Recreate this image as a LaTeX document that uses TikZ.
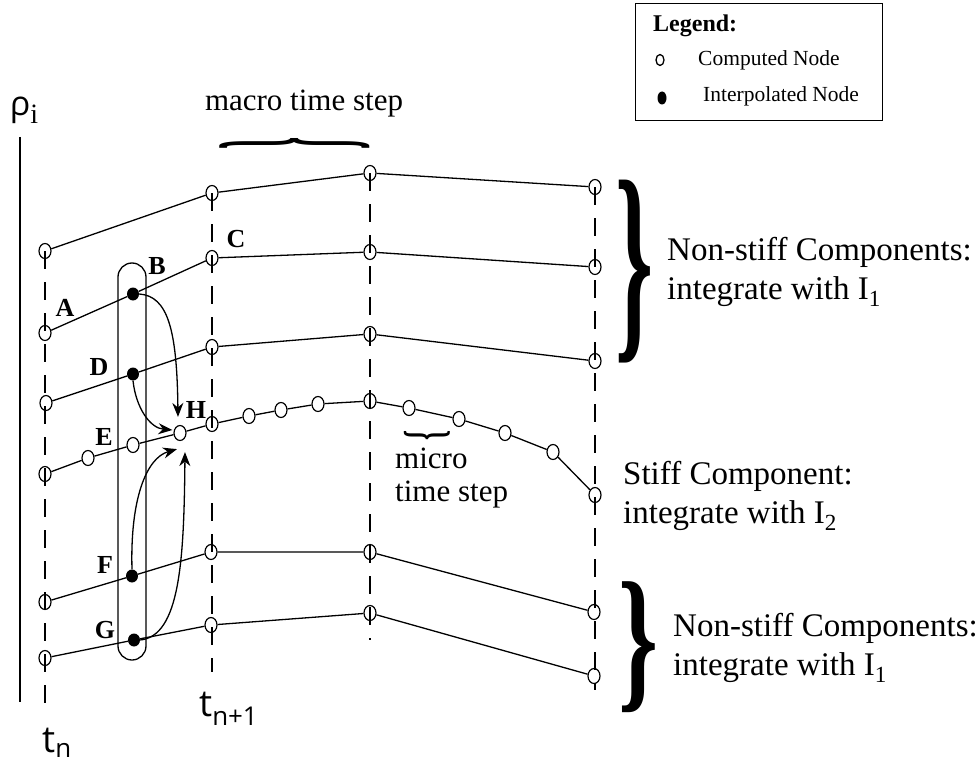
\documentclass[tikz,border=0pt]{standalone}
\usepackage{fontspec}
\setmainfont{Liberation Serif}
\newfontfamily\sansf{Open Sans}
\usetikzlibrary{shapes.geometric,arrows.meta}
\newcommand{\bracechar}{{\fontsize{30}{30}\selectfont\bfseries\}}}
\begin{document}
\begin{tikzpicture}[x=1pt,y=-1pt,
  cn/.style={draw,ellipse,minimum width=12pt,minimum height=15pt,inner sep=0pt,line width=1.2pt},
  inn/.style={fill,ellipse,minimum width=12pt,minimum height=13pt,inner sep=0pt},
  seg/.style={line width=1.3pt},
  tline/.style={line width=1.3pt,dash pattern=on 18pt off 13pt},
  lab/.style={font=\fontsize{26}{26}\selectfont\bfseries,inner sep=0pt},
  arr/.style={line width=1.3pt,-{Stealth[length=14pt,width=11pt]}},
  txt/.style={font=\fontsize{33}{39}\selectfont,align=left,inner sep=0pt},
  big/.style={font=\sansf\fontsize{37}{37}\selectfont,inner sep=0pt}
]
\useasboundingbox (0,0) rectangle (977,765);

% ---- nodes ----
% row 1
\node[cn] (r1a) at (45,251) {};
\node[cn] (r1b) at (212,193) {};
\node[cn] (r1c) at (370,173) {};
\node[cn] (r1d) at (595,187) {};
% row 2
\node[cn] (r2a) at (45,333) {};
\node[inn] (B) at (133,294) {};
\node[cn] (r2b) at (212,258) {};
\node[cn] (r2c) at (370,252) {};
\node[cn] (r2d) at (595,267) {};
% row 3
\node[cn] (r3a) at (46,403) {};
\node[inn] (D) at (133,374) {};
\node[cn] (r3b) at (212,347) {};
\node[cn] (r3c) at (370,334) {};
\node[cn] (r3d) at (595,361) {};
% row 4 (stiff)
\node[cn] (s0) at (45,474) {};
\node[cn] (s1) at (88,458) {};
\node[cn] (s2) at (133,445) {};
\node[cn] (H) at (180,433) {};
\node[cn] (s4) at (212,424) {};
\node[cn] (s5) at (249,416) {};
\node[cn] (s6) at (281,410) {};
\node[cn] (s7) at (318,404) {};
\node[cn] (s8) at (370,401) {};
\node[cn] (s9) at (409,408) {};
\node[cn] (s10) at (459,419) {};
\node[cn] (s11) at (505,433) {};
\node[cn] (s12) at (553,452) {};
\node[cn] (s13) at (595,495) {};
% row 5
\node[cn] (r5a) at (45,602) {};
\node[inn] (F) at (132,576) {};
\node[cn] (r5b) at (211,552) {};
\node[cn] (r5c) at (370,552) {};
\node[cn] (r5d) at (594,612) {};
% row 6
\node[cn] (r6a) at (45,658) {};
\node[inn] (G) at (134,640) {};
\node[cn] (r6b) at (211,625) {};
\node[cn] (r6c) at (370,613) {};
\node[cn] (r6d) at (594,676) {};

% ---- dashed time lines ----
\coordinate (v1) at (45,712);
\coordinate (v2) at (212,672);
\coordinate (v3) at (370,640);
\coordinate (v4) at (595,690);
\draw[tline] (r1a.center) -- (v1);
\draw[tline] (r1b.center) -- (v2);
\draw[tline] (r1c.center) -- (v3);
\draw[tline] (r1d.center) -- (v4);

% ---- axis ----
\coordinate (ax1) at (20,137);
\coordinate (ax2) at (20,702);
\draw[line width=1.5pt] (ax1) -- (ax2);

% ---- polylines ----
\draw[seg] (r1a) -- (r1b) -- (r1c) -- (r1d);
\draw[seg] (r2a) -- (B) -- (r2b) -- (r2c) -- (r2d);
\draw[seg] (r3a) -- (D) -- (r3b) -- (r3c) -- (r3d);
\draw[seg] (s0) -- (s1) -- (s2) -- (H) -- (s4) -- (s5) -- (s6) -- (s7) -- (s8) -- (s9) -- (s10) -- (s11) -- (s12) -- (s13);
\draw[seg] (r5a) -- (F) -- (r5b) -- (r5c) -- (r5d);
\draw[seg] (r6a) -- (G) -- (r6b) -- (r6c) -- (r6d);

% ---- capsule ----
\draw[seg,rounded corners=14pt] (118,263) rectangle (146,660);

% ---- arrows into H ----
\draw[arr] (B.east) .. controls (168,296) and (177,330) .. ([xshift=-2pt,yshift=8pt]H.north);
\draw[arr] (D.south) .. controls (136,408) and (150,428) .. ([xshift=-1pt,yshift=3pt]H.west);
\draw[arr] (F.north) .. controls (130,500) and (146,458) .. ([xshift=-3pt,yshift=-8pt]H.south);
\draw[arr] (G.east) .. controls (180,636) and (184,560) .. ([xshift=5pt,yshift=-11pt]H.south);

% ---- point labels ----
\node[lab] (lA) at (65,308) {A};
\node[lab] (lB) at (157,266) {B};
\node[lab] (lC) at (236,239) {C};
\node[lab] (lD) at (99,367) {D};
\node[lab] (lE) at (104,437) {E};
\node[lab] (lH) at (196,410) {H};
\node[lab] (lF) at (105,565) {F};
\node[lab] (lG) at (105,630) {G};

% ---- axis labels ----
\node[inner sep=0pt] (rho) at (24,110) {{\sansf\fontsize{34}{34}\selectfont ρ}{\fontsize{28}{28}\selectfont\raisebox{-8pt}{i}}};
\node[big,anchor=base west] (tn) at (42,752) {t\textsubscript{n}};
\node[big,anchor=base west] (tn1) at (199,716) {t\textsubscript{n+1}};

% ---- braces ----
\node[inner sep=0pt] (bmacro) at (295,143) {\rotatebox{90}{\resizebox*{12pt}{150pt}{\bracechar}}};
\node[inner sep=0pt,font=\fontsize{31}{31}\selectfont] (tmacro) at (304,104) {macro time step};
\node[inner sep=0pt] (bmicro) at (427,435) {\rotatebox{-90}{\resizebox*{10pt}{46pt}{\bracechar}}};
\node[font=\fontsize{31}{33}\selectfont,align=left,inner sep=0pt,anchor=north west] (tmicro) at (395,448) {micro\\time step};

\node[inner sep=0pt] (br1) at (634,272) {\resizebox*{38pt}{183pt}{\bracechar}};
\node[inner sep=0pt] (br2) at (638,647) {\resizebox*{40pt}{131pt}{\bracechar}};

\node[txt,anchor=west] (t1) at (667,272) {Non-stiff Components:\\integrate with I\textsubscript{1}};
\node[txt,anchor=west] (t2) at (623,496) {Stiff Component:\\integrate with I\textsubscript{2}};
\node[txt,anchor=west] (t3) at (673,648) {Non-stiff Components:\\integrate with I\textsubscript{1}};

% ---- legend ----
\node[draw,line width=1.3pt,minimum width=247pt,minimum height=117pt,anchor=north west,inner sep=0pt] (leg) at (635,3) {};
\node[anchor=west,inner sep=0pt,font=\fontsize{24}{24}\selectfont\bfseries] (legt) at (653,26) {Legend:};
\node[draw,ellipse,line width=1.3pt,minimum width=8pt,minimum height=11pt,inner sep=0pt] (lc) at (660,60) {};
\node[anchor=west,inner sep=0pt,font=\fontsize{21.5}{24}\selectfont] (lct) at (698,60) {Computed Node};
\node[fill,ellipse,minimum width=9pt,minimum height=13pt,inner sep=0pt] (li) at (662,98) {};
\node[anchor=west,inner sep=0pt,font=\fontsize{21.5}{24}\selectfont] (lit) at (703,96) {Interpolated Node};
\end{tikzpicture}
\end{document}
